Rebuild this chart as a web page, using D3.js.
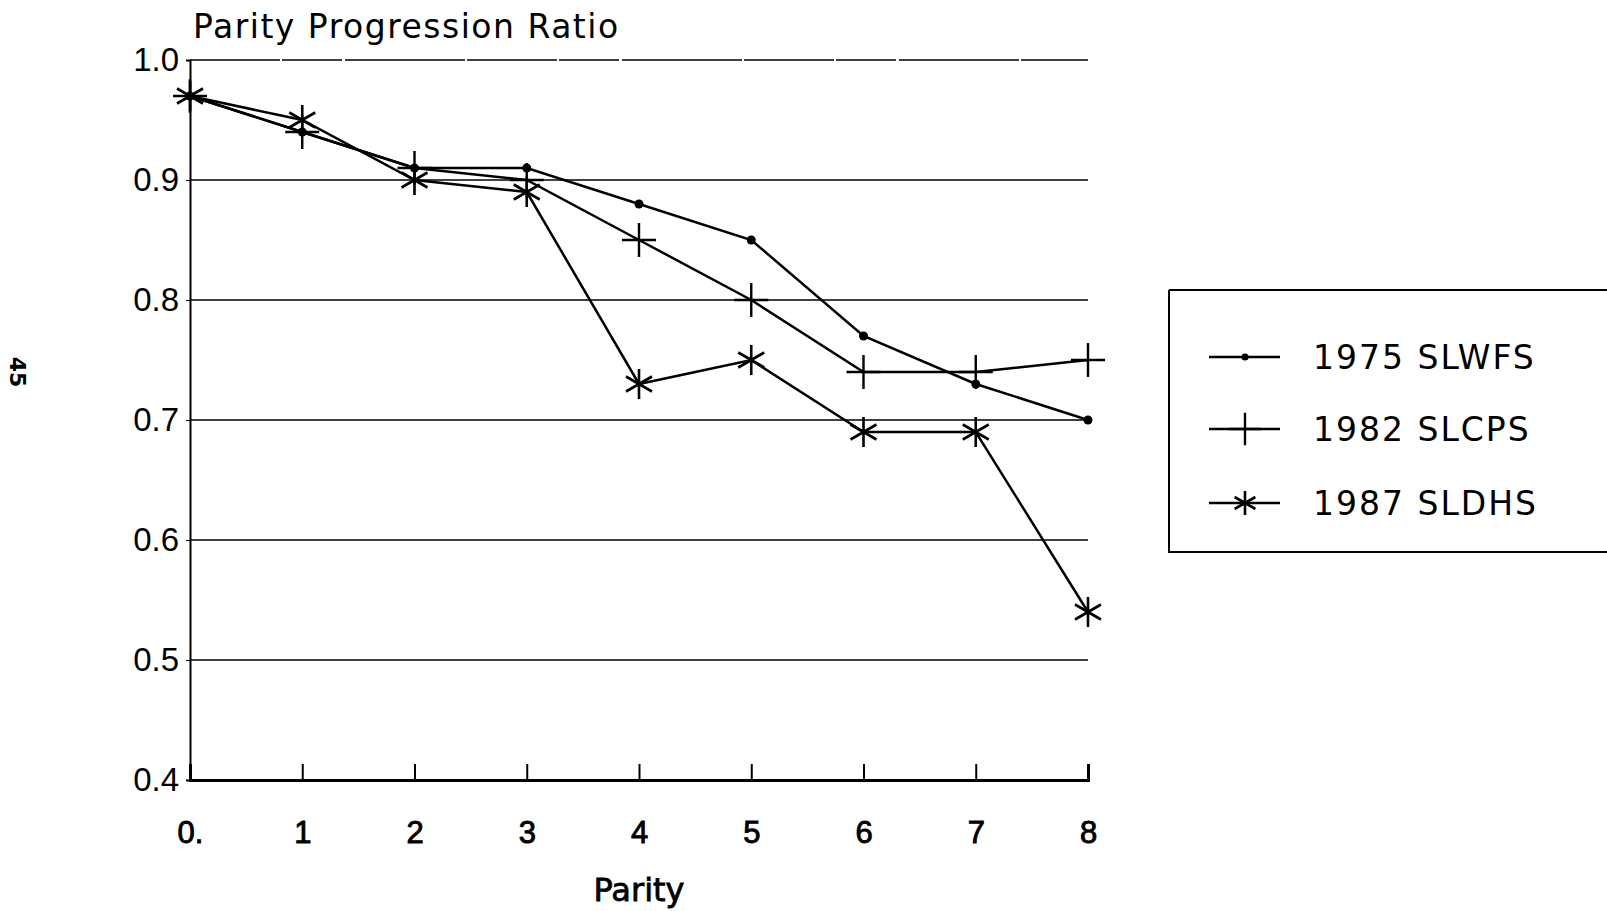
<!DOCTYPE html>
<html><head><meta charset="utf-8">
<script src="https://cdn.jsdelivr.net/npm/d3@7"></script>
<style>html,body{margin:0;padding:0;background:#fff;}svg{display:block;font-family:"DejaVu Sans",sans-serif;}</style>
</head><body><svg id="c" width="1607" height="911"></svg>
<script>
const parities = [0,1,2,3,4,5,6,7,8];
const seriesNames = ["1975 SLWFS","1982 SLCPS","1987 SLDHS"];
const slwfs1975 = [0.97,0.94,0.91,0.91,0.88,0.85,0.77,0.73,0.70];
const slcps1982 = [0.97,0.94,0.91,0.90,0.85,0.80,0.74,0.74,0.75];
const sldhs1987 = [0.97,0.95,0.90,0.89,0.73,0.75,0.69,0.69,0.54];
const yTicks = [0.4,0.5,0.6,0.7,0.8,0.9,1.0];
const yTickLabels = ["0.4","0.5","0.6","0.7","0.8","0.9","1.0"];
const markers = ["dot","plus","star"];

const svg = d3.select("#c");
const x = d3.scaleLinear().domain([0,8]).range([190,1088]);
const y = d3.scaleLinear().domain([0.4,1.0]).range([780,60]);

// gridlines
svg.append("g").selectAll("line").data(yTicks.filter(v=>v>0.4)).join("line")
  .attr("x1",x(0)).attr("x2",x(8)).attr("y1",d=>y(d)).attr("y2",d=>y(d))
  .attr("stroke","#000").attr("stroke-width",d=>d===1.0?1.3:1.5)
  .attr("stroke-dasharray",d=>d===1.0?"90,2,60,3,120,2":null);

// y axis
const yAxis = d3.axisLeft(y).tickValues(yTicks).tickFormat((d,i)=>yTickLabels[i]).tickSize(4).tickPadding(7);
const gy = svg.append("g").attr("transform",`translate(${x(0)},0)`).call(yAxis);
gy.select(".domain").attr("stroke","#000").attr("stroke-width",2);
gy.selectAll("text").attr("font-size",33).attr("fill","#000");

// x axis
const xAxis = d3.axisBottom(x).tickValues(parities).tickFormat(d=>d===0?"0.":String(d)).tickSize(-16).tickPadding(36);
const gx = svg.append("g").attr("transform",`translate(0,${y(0.4)})`).call(xAxis);
gx.select(".domain").attr("stroke","#000").attr("stroke-width",3);
gx.selectAll(".tick line").attr("stroke-width",2);
gx.selectAll(".tick").filter(d=>d===0).select("line").remove();
gx.selectAll("text").attr("font-size",31).attr("fill","#000").attr("stroke","#000").attr("stroke-width",0.9).attr("dy","0.35em").attr("y",52);

// titles
svg.append("text").attr("x",193).attr("y",38).attr("font-size",33).attr("letter-spacing",1.5).text("Parity Progression Ratio");
svg.append("text").attr("x",x(4)).attr("y",901).attr("text-anchor","middle").attr("font-size",32).attr("stroke","#000").attr("stroke-width",0.8).text("Parity");
svg.append("text").attr("transform","translate(10,372) rotate(90)").attr("text-anchor","middle").attr("font-size",22).attr("font-weight","bold").text("45");

const allSeries = [slwfs1975, slcps1982, sldhs1987];
const line = d3.line().x((d,i)=>x(parities[i])).y(d=>y(d));

function drawMarker(g, type, cx, cy, s){
  if(type==="dot"){
    g.append("circle").attr("cx",cx).attr("cy",cy).attr("r",4.5*s).attr("fill","#000");
  } else if(type==="plus"){
    g.append("path").attr("d",`M${cx-17*s},${cy}H${cx+17*s}M${cx},${cy-17*s}V${cy+17*s}`)
      .attr("stroke","#000").attr("stroke-width",2.4).attr("fill","none");
  } else {
    const r=15*s; let d="";
    [90,30,-30].forEach(a=>{const t=a*Math.PI/180;d+=`M${cx-r*Math.cos(t)},${cy-r*Math.sin(t)}L${cx+r*Math.cos(t)},${cy+r*Math.sin(t)}`;});
    g.append("path").attr("d",d).attr("stroke","#000").attr("stroke-width",2.6).attr("fill","none");
  }
}

allSeries.forEach((vals,k)=>{
  const g = svg.append("g");
  g.append("path").datum(vals).attr("d",line).attr("fill","none").attr("stroke","#000").attr("stroke-width",2.5);
  vals.forEach((v,i)=>drawMarker(g, markers[k], x(parities[i]), y(v), 1));
});

// legend
const lg = svg.append("g");
lg.append("path").attr("d","M1169,290H1607M1169,290V552H1607").attr("stroke","#000").attr("stroke-width",2).attr("fill","none");
const legendY = [357,429,503];
seriesNames.forEach((n,i)=>{
  lg.append("line").attr("x1",1209).attr("x2",1280).attr("y1",legendY[i]).attr("y2",legendY[i]).attr("stroke","#000").attr("stroke-width",2.4);
  drawMarker(lg, markers[i], 1245, legendY[i], i===0?0.8:(i===1?0.95:0.8));
  lg.append("text").attr("x",1313).attr("y",legendY[i]).attr("dy","0.36em").attr("font-size",33).attr("letter-spacing",2).text(n);
});
</script></body></html>
